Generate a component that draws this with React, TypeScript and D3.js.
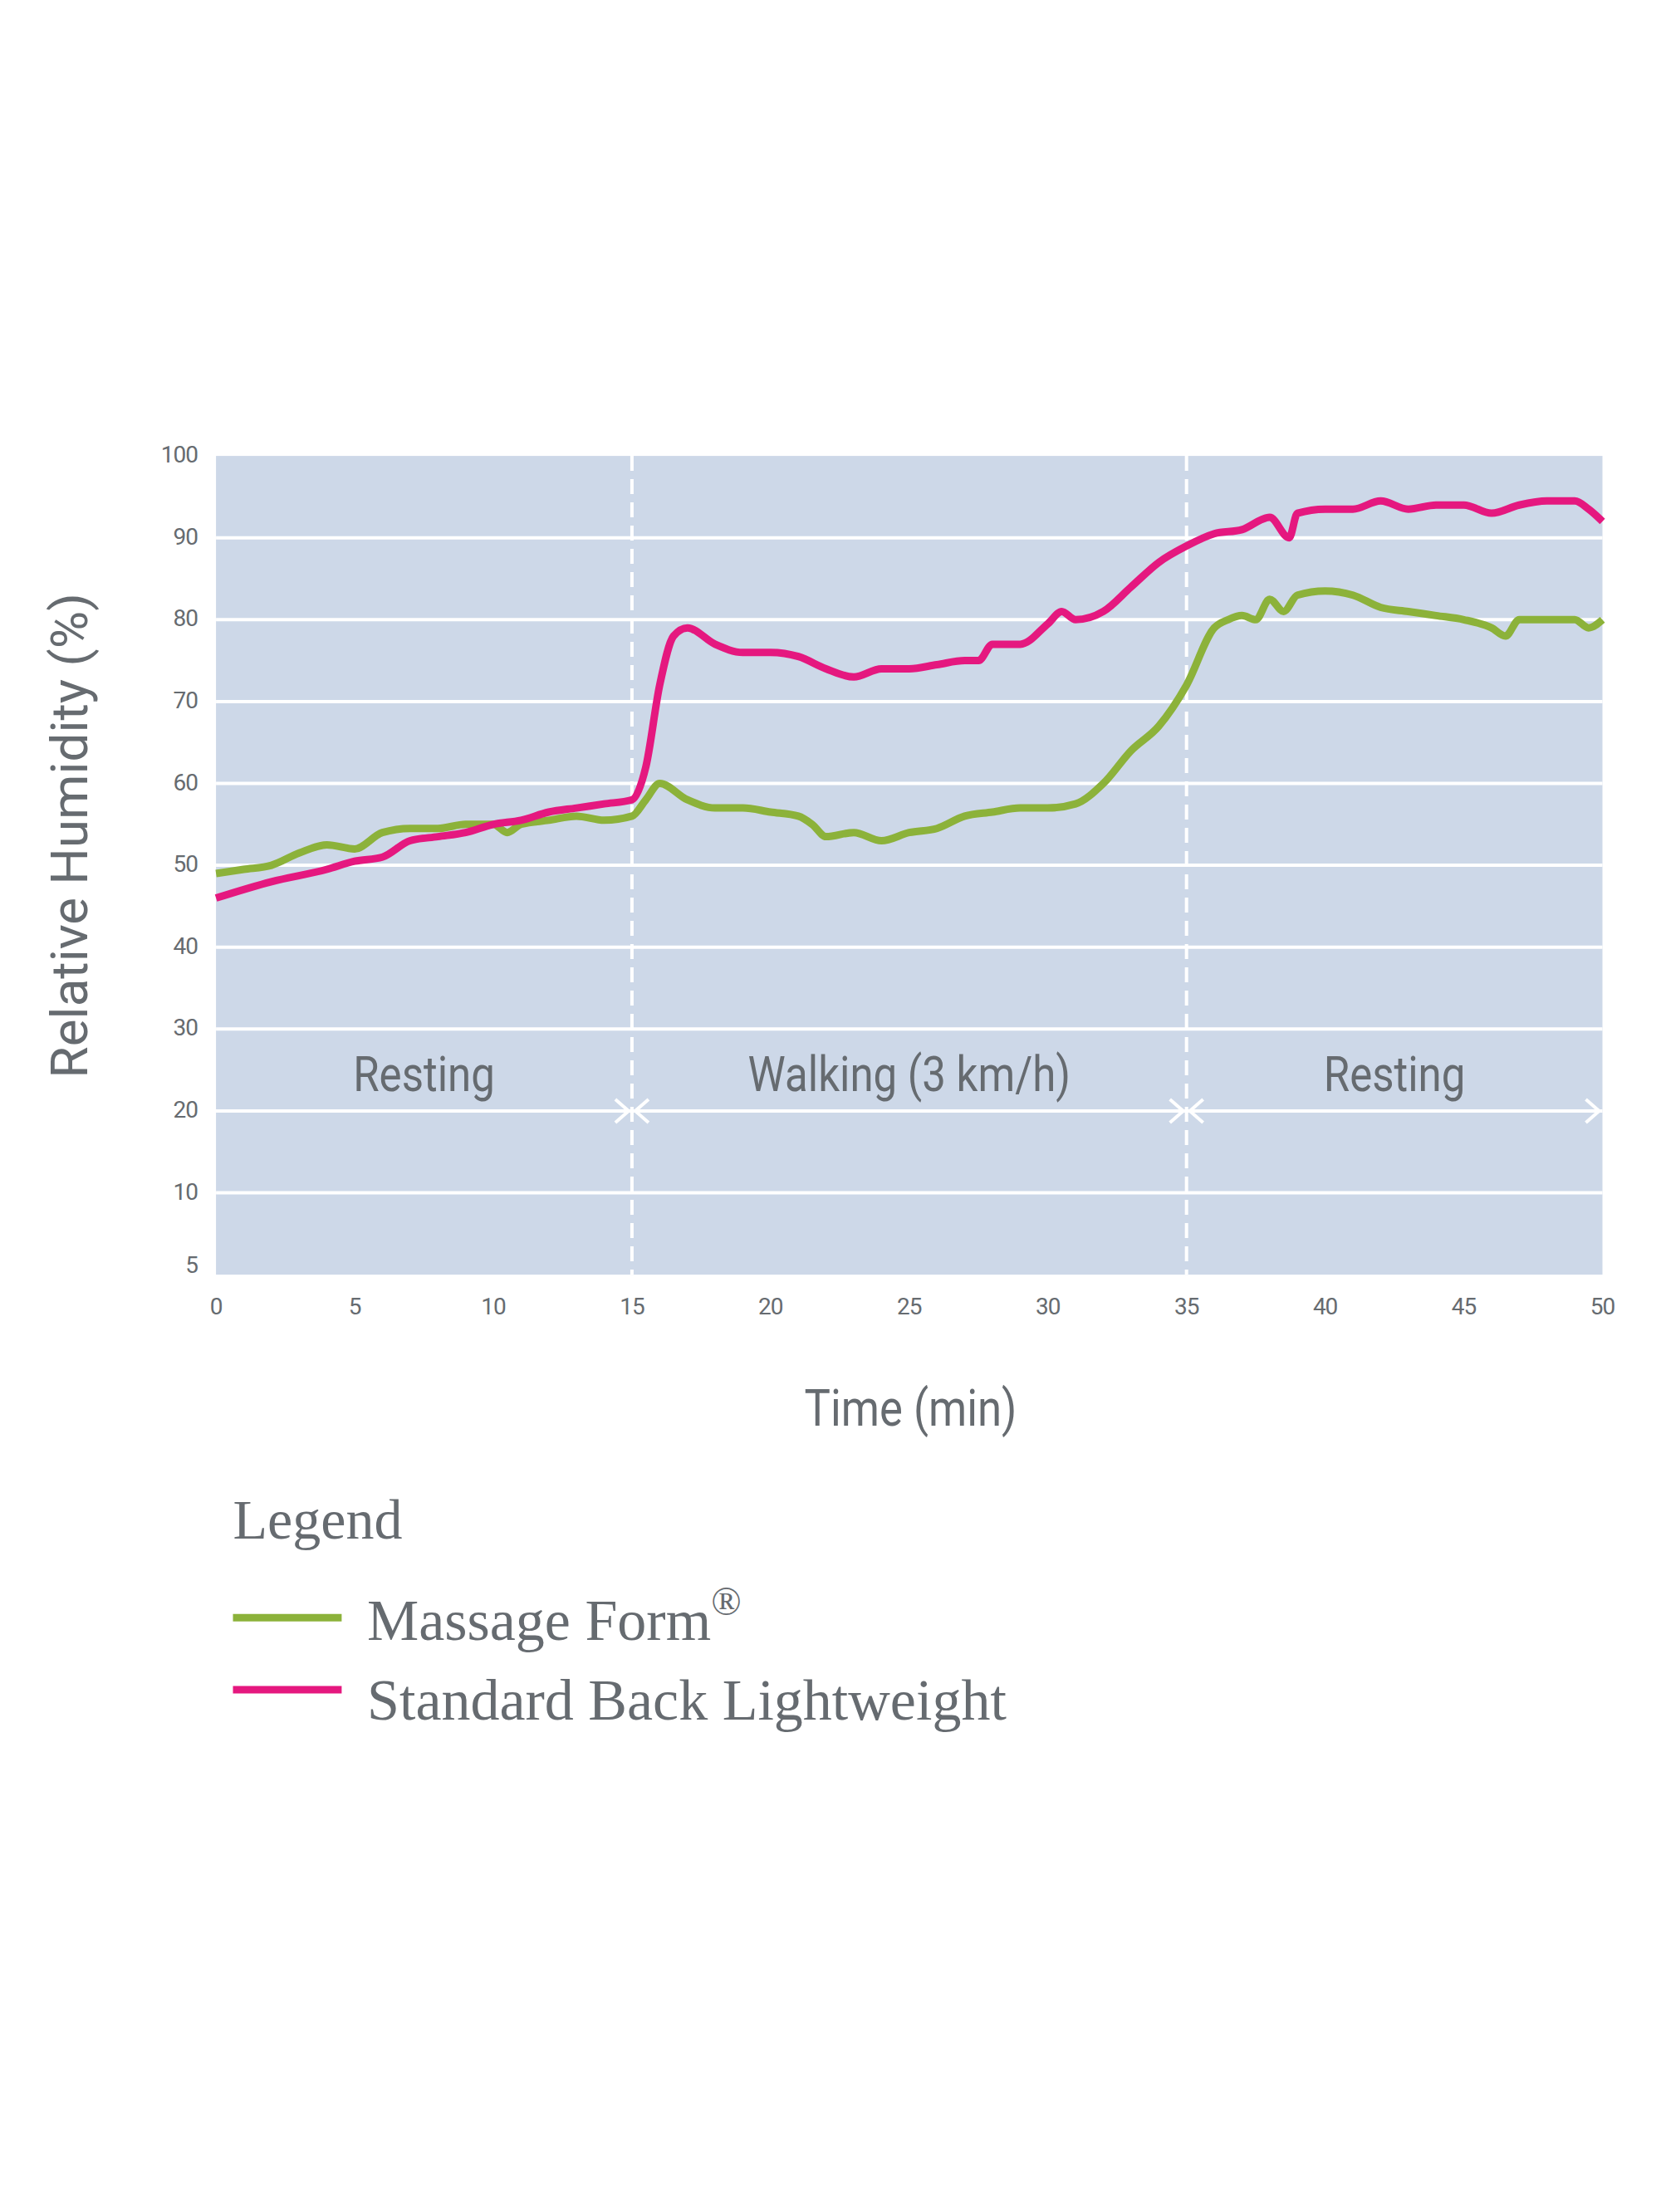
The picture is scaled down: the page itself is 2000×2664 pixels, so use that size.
import React from 'react';
import * as d3 from 'd3';

const yTicks = [0, 10, 20, 30, 40, 50, 60, 70, 80, 90, 100];
const yTickLabels = ['5', '10', '20', '30', '40', '50', '60', '70', '80', '90', '100'];
const xTicks = [0, 5, 10, 15, 20, 25, 30, 35, 40, 45, 50];
const phaseBounds = [0, 15, 35, 50];
const phaseNames = ['Resting', 'Walking (3 km/h)', 'Resting'];

const massageT = [0, 1, 2, 3, 4, 5, 6, 7, 8, 9, 10, 10.5, 11, 12, 13, 14, 15, 15.5, 16, 17, 18, 19, 20, 21, 21.5, 22, 23, 24, 25, 26, 27, 28, 29, 30, 31, 32, 33, 34, 35, 36, 36.5, 37, 37.5, 38, 38.5, 39, 40, 41, 42, 43, 44, 45, 46, 46.5, 47, 48, 49, 49.5, 50];
const massageV = [49, 49.5, 50, 51.5, 52.5, 52, 54, 54.5, 54.5, 55, 55, 54, 55, 55.5, 56, 55.5, 56, 58, 60, 58, 57, 57, 56.5, 56, 55, 53.5, 54, 53, 54, 54.5, 56, 56.5, 57, 57, 57.5, 60, 64, 67, 72, 79, 80, 80.5, 80, 82.5, 81, 83, 83.5, 83, 81.5, 81, 80.5, 80, 79, 78, 80, 80, 80, 79, 80];
const standardT = [0, 2, 4, 5, 6, 7, 8, 9, 10, 11, 12, 13, 14, 15, 15.5, 16, 16.5, 17, 18, 19, 20, 21, 22, 23, 24, 25, 26, 27, 27.5, 28, 29, 30, 30.5, 31, 32, 33, 34, 35, 36, 37, 38, 38.7, 39, 40, 41, 42, 43, 44, 45, 46, 47, 48, 49, 49.5, 50];
const standardV = [46, 48, 49.5, 50.5, 51, 53, 53.5, 54, 55, 55.5, 56.5, 57, 57.5, 58, 62, 72, 78, 79, 77, 76, 76, 75.5, 74, 73, 74, 74, 74.5, 75, 75, 77, 77, 79.5, 81, 80, 81, 84, 87, 89, 90.5, 91, 92.5, 90, 93, 93.5, 93.5, 94.5, 93.5, 94, 94, 93, 94, 94.5, 94.5, 93.5, 92];

const GREEN = '#8cb23a';
const PINK = '#e5187f';
const GREY = '#666b70';
const K = 1.7; // reference measured at 1176x1567

export default function App() {
  const left = 153 * K, right = 1135 * K, top = 323 * K, bottom = 903 * K;
  const x = d3.scaleLinear().domain([0, 50]).range([left, right]);
  const y = d3.scaleLinear().domain([0, 100]).range([bottom, top]);
  const line = d3.line<[number, number]>().x(d => x(d[0])).y(d => y(d[1])).curve(d3.curveMonotoneX);
  const mPts = massageT.map((t, i) => [t, massageV[i]] as [number, number]);
  const sPts = standardT.map((t, i) => [t, standardV[i]] as [number, number]);
  const arrowY = y(20);
  const sans = 'Roboto, "Liberation Sans", sans-serif';
  const serif = '"Liberation Serif", "DejaVu Serif", serif';
  const phaseY = 773 * K;

  return (
    <svg width={2000} height={2664} style={{ position: 'absolute', left: 0, top: 0 }}>
      <rect x={0} y={0} width={2000} height={2664} fill="#fff" />
      <rect x={left} y={top} width={right - left} height={bottom - top} fill="#cdd8e8" />
      {yTicks.slice(1, -1).map(v => (
        <line key={v} x1={left} x2={right} y1={y(v)} y2={y(v)} stroke="#fff" strokeWidth={4} />
      ))}
      {yTicks.map((v, i) => (
        <text key={v} x={140 * K} y={y(v) + (i === 0 ? -2 : 8)} textAnchor="end" fontFamily={sans} fontSize={28} fill={GREY} style={{ letterSpacing: '-1px' }}>
          {yTickLabels[i]}
        </text>
      ))}
      {xTicks.map(v => (
        <text key={v} x={x(v)} y={931 * K} textAnchor="middle" fontFamily={sans} fontSize={28} fill={GREY} style={{ letterSpacing: '-1px' }}>{v}</text>
      ))}
      {phaseBounds.slice(1, -1).map(b => (
        <line key={b} x1={x(b)} x2={x(b)} y1={top} y2={bottom} stroke="#fff" strokeWidth={4} strokeDasharray="18,10" />
      ))}
      {phaseNames.map((n, i) => {
        const a = phaseBounds[i], b = phaseBounds[i + 1];
        const x1 = x(a) + (i === 0 ? 0 : 4), x2 = x(b) - 4;
        const cx = (x(a) + x(b)) / 2;
        return (
          <g key={i}>
            <text transform={`translate(${cx},${phaseY}) scale(0.85,1)`} textAnchor="middle" fontFamily={sans} fontSize={60} fill={GREY}>{n}</text>
            <line x1={x1} x2={x2} y1={arrowY} y2={arrowY} stroke="#fff" strokeWidth={4} />
            <path d={`M${x2 - 16},${arrowY - 14} L${x2},${arrowY} L${x2 - 16},${arrowY + 14}`} fill="none" stroke="#fff" strokeWidth={4} />
            {i > 0 && <path d={`M${x1 + 16},${arrowY - 14} L${x1},${arrowY} L${x1 + 16},${arrowY + 14}`} fill="none" stroke="#fff" strokeWidth={4} />}
          </g>
        );
      })}
      <path d={line(mPts) ?? ''} fill="none" stroke={GREEN} strokeWidth={9} strokeLinejoin="round" />
      <path d={line(sPts) ?? ''} fill="none" stroke={PINK} strokeWidth={9} strokeLinejoin="round" />
      <text transform={`translate(${62 * K},${592 * K}) rotate(-90)`} textAnchor="middle" fontFamily={sans} fontSize={62} fill={GREY}>Relative Humidity (%)</text>
      <text transform={`translate(${645 * K},${1010 * K}) scale(0.85,1)`} textAnchor="middle" fontFamily={sans} fontSize={62} fill={GREY}>Time (min)</text>
      <text x={165 * K} y={1090 * K} fontFamily={serif} fontSize={68} fill={GREY}>Legend</text>
      <line x1={165 * K} x2={242 * K} y1={1146 * K} y2={1146 * K} stroke={GREEN} strokeWidth={9} />
      <text x={260 * K} y={1162 * K} fontFamily={serif} fontSize={70} fill={GREY}>Massage Form<tspan dy={-30} fontSize={48}>®</tspan></text>
      <line x1={165 * K} x2={242 * K} y1={1197 * K} y2={1197 * K} stroke={PINK} strokeWidth={9} />
      <text x={260 * K} y={1218 * K} fontFamily={serif} fontSize={70} fill={GREY}>Standard Back Lightweight</text>
    </svg>
  );
}
